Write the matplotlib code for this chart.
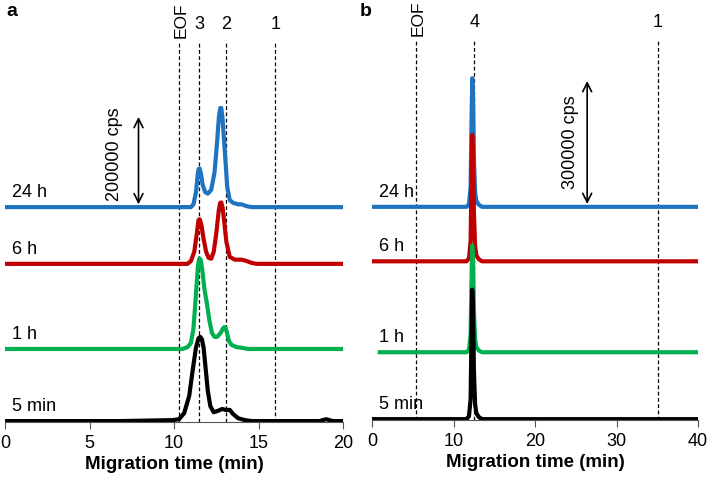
import matplotlib.pyplot as plt

plt.rcParams['font.family'] = ['Liberation Sans', 'DejaVu Sans']

# panel a: signal in kcps, time in min
a_t_24h = [0, 11.0, 11.15, 11.3, 11.4, 11.46, 11.52, 11.6, 11.7, 11.85, 12.0, 12.2, 12.4, 12.55, 12.66, 12.74, 12.8, 12.87, 12.95, 13.05, 13.15, 13.3, 13.5, 13.8, 14.0, 14.3, 14.6, 20]
a_y_24h = [0, 0, 6, 32, 69, 82, 83, 71, 47, 32, 29, 37, 75, 140, 195, 213, 213, 192, 150, 97, 43, 15, 9, 6, 6, 2, 0, 0]
a_t_6h = [0, 10.8, 11.0, 11.2, 11.35, 11.45, 11.52, 11.62, 11.75, 11.9, 12.05, 12.2, 12.35, 12.5, 12.65, 12.73, 12.8, 12.88, 12.95, 13.1, 13.3, 13.6, 14.0, 14.3, 14.6, 14.9, 20]
a_y_6h = [0, 0, 6, 26, 65, 94, 96, 84, 54, 26, 13, 11, 26, 65, 115, 131, 132, 120, 97, 47, 15, 9, 9, 6, 2, 0, 0]
a_t_1h = [0, 10.5, 10.8, 11.0, 11.15, 11.3, 11.42, 11.5, 11.58, 11.68, 11.8, 11.95, 12.1, 12.25, 12.4, 12.55, 12.75, 12.9, 12.97, 13.04, 13.12, 13.25, 13.4, 13.7, 14.1, 14.4, 20]
a_y_1h = [0, 0, 4, 13, 43, 118, 180, 195, 192, 168, 129, 97, 60, 34, 26, 26, 34, 44, 47, 46, 37, 17, 9, 4, 2, 0, 0]
a_t_5min = [0, 6.8, 9.9, 10.3, 10.6, 10.9, 11.1, 11.3, 11.45, 11.55, 11.65, 11.75, 11.88, 12.0, 12.15, 12.35, 12.6, 12.85, 13.05, 13.3, 13.5, 13.8, 14.2, 14.6, 18.6, 19.0, 19.4, 20]
a_y_5min = [0, 0, 2, 4, 17, 54, 108, 158, 178, 181, 176, 158, 110, 65, 32, 19, 22, 26, 24, 24, 15, 6, 2, 0, 0, 4, 0, 0]
a_offsets = [460, 338, 155, 0]
a_marks = [10.3, 11.5, 13.1, 16.0]
a_mark_labels = ['EOF', '3', '2', '1']

# panel b
b_t = [0, 11.6, 11.9, 12.1, 12.2, 12.3, 12.4, 12.5, 12.65, 12.8, 13.1, 13.5, 40]
b_t_1h = [0.7, 11.6, 11.9, 12.1, 12.2, 12.3, 12.4, 12.5, 12.65, 12.8, 13.1, 13.5, 40]
b_y_24h = [0, 0, 7, 47, 186, 300, 256, 116, 35, 14, 5, 0, 0]
b_y_6h = [0, 0, 7, 47, 186, 295, 251, 116, 35, 14, 5, 0, 0]
b_y_1h = [0, 0, 6, 40, 158, 249, 212, 98, 30, 12, 4, 0, 0]
b_y_5min = [0, 0, 7, 47, 186, 302, 256, 116, 35, 14, 5, 0, 0]
b_offsets = [495, 368, 156, 0]
b_marks = [5.4, 12.55, 35.1]
b_mark_labels = ['EOF', '4', '1']

labels = ['24 h', '6 h', '1 h', '5 min']
colors = ['#1f74c2', '#c00000', '#00b050', '#000000']


def draw_panel(ax, traces, offsets, marks, mark_labels, xmax, ticks, ytop,
               arrow_x, arrow_h, arrow_text, text_x, text_y):
    ax.set_xlim(0, xmax)
    ax.set_ylim(-2, ytop)
    for x, lab in zip(marks, mark_labels):
        ax.axvline(x, color='black', lw=0.9, ls=(0, (3, 2)), zorder=1)
        if lab == 'EOF':
            ax.text(x + xmax * 0.006, ytop * 1.01, lab, rotation=90, ha='center', va='bottom', fontsize=12.5)
        else:
            ax.text(x, ytop * 1.025, lab, ha='center', va='bottom', fontsize=13)
    for (t, y), off, c, lab in zip(traces, offsets, colors, labels):
        ax.plot(t, [v + off for v in y], color=c, lw=3, zorder=2,
                solid_joinstyle='round', solid_capstyle='butt')
        ax.text(xmax * 0.02, off + ytop * 0.016, lab, fontsize=13, ha='left', va='bottom', zorder=3)
    base = offsets[0]
    ax.annotate('', xy=(arrow_x, base + arrow_h), xytext=(arrow_x, base),
                arrowprops=dict(arrowstyle='<->', color='black', lw=1.2, mutation_scale=16))
    ax.text(text_x, base + text_y, arrow_text, rotation=90, ha='center', va='center', fontsize=13)
    for s in ['top', 'left', 'right']:
        ax.spines[s].set_visible(False)
    ax.spines['bottom'].set_color('#555555')
    ax.set_yticks([])
    ax.set_xticks(ticks)
    ax.tick_params(axis='x', direction='out', length=5, width=0.8, labelsize=13, pad=4,
                   colors='#555555', labelcolor='black')
    ax.set_xlabel('Migration time (min)', fontsize=13.5, fontweight='bold', labelpad=3)


fig = plt.figure(figsize=(7.08, 4.8), dpi=100)
ax_a = fig.add_axes([5 / 708, 58 / 480, 338 / 708, 380 / 480])
ax_b = fig.add_axes([372 / 708, 60 / 480, 326 / 708, 380 / 480])

draw_panel(ax_a,
           [(a_t_24h, a_y_24h), (a_t_6h, a_y_6h), (a_t_1h, a_y_1h), (a_t_5min, a_y_5min)],
           a_offsets, a_marks, a_mark_labels, 20, [0, 5, 10, 15, 20], 815,
           7.9, 200, '200000 cps', 6.5, 114)
draw_panel(ax_b,
           [(b_t, b_y_24h), (b_t, b_y_6h), (b_t_1h, b_y_1h), (b_t, b_y_5min)],
           b_offsets, b_marks, b_mark_labels, 40, [0, 10, 20, 30, 40], 884,
           26.4, 300, '300000 cps', 24.3, 151)

fig.text(6 / 708, 1 - 12 / 480, 'a', fontsize=14, fontweight='bold', ha='left', va='center')
fig.text(360 / 708, 1 - 12 / 480, 'b', fontsize=14, fontweight='bold', ha='left', va='center')

fig.savefig('out.png', dpi=100)
